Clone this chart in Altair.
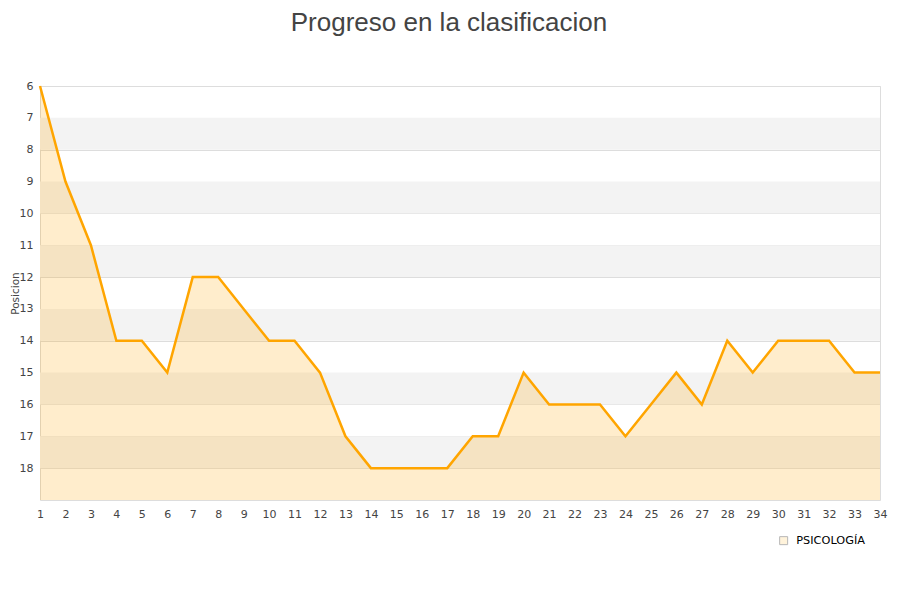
import altair as alt
import pandas as pd

jornadas = list(range(1, 35))
posiciones = [6, 9, 11, 14, 14, 15, 12, 12, 13, 14, 14, 15, 17, 18, 18, 18, 18,
              17, 17, 15, 16, 16, 16, 17, 16, 15, 16, 14, 15, 14, 14, 14, 15, 15]
serie = "PSICOLOGÍA"
y_ticks = list(range(6, 19))
banda_inicio = [7, 9, 11, 13, 15, 17]

df = pd.DataFrame({"jornada": jornadas, "posicion": posiciones, "serie": serie, "fondo": 19})
bandas = pd.DataFrame({"y": banda_inicio, "y2": [b + 1 for b in banda_inicio]})

xs = alt.Scale(domain=[1, 34], nice=False, zero=False)
ys = alt.Scale(domain=[6, 19], reverse=True, nice=False, zero=False)

font = "DejaVu Sans"

x_axis = alt.Axis(values=jornadas, title=None, grid=False, ticks=False, domain=False,
                  labelFont=font, labelFontSize=11, labelColor="#444", labelPadding=8,
                  labelFlush=False, labelOverlap=False, labelBound=False)
y_axis = alt.Axis(values=y_ticks, title="Posicion", grid=True, gridColor="#dddddd",
                  ticks=False, domain=False, labelFont=font, labelFontSize=11,
                  labelColor="#444", labelPadding=7, labelOverlap=False, labelBound=False,
                  labelFlush=False,
                  titleFont=font, titleFontSize=10.5,
                  titleFontWeight="normal", titleColor="#444", titleX=-20)

band_layer = alt.Chart(bandas).mark_rect(color="#f3f3f3").encode(
    y=alt.Y("y:Q", scale=ys, axis=y_axis),
    y2="y2:Q",
    x=alt.value(0),
    x2=alt.value(840),
)

area = alt.Chart(df).mark_area(color="#FFA500", opacity=0.2).encode(
    x=alt.X("jornada:Q", scale=xs, axis=x_axis),
    y=alt.Y("posicion:Q", scale=ys, axis=y_axis),
    y2="fondo:Q",
)

line = alt.Chart(df).mark_line(color="#FFA500", strokeWidth=2.5).encode(
    x=alt.X("jornada:Q", scale=xs, axis=x_axis),
    y=alt.Y("posicion:Q", scale=ys, axis=y_axis),
)

legend_layer = alt.Chart(df).mark_square(stroke="#999999", strokeWidth=1).encode(
    x=alt.X("jornada:Q", scale=xs, axis=x_axis),
    y=alt.Y("posicion:Q", scale=ys, axis=y_axis),
    size=alt.value(0),
    fill=alt.Fill("serie:N", scale=alt.Scale(domain=[serie], range=["#FFEECC"]),
                  legend=alt.Legend(title=None, orient="none", legendX=738, legendY=449,
                                    symbolType="square", symbolSize=64,
                                    symbolStrokeColor="#999999", symbolStrokeWidth=1,
                                    labelFont=font, labelFontSize=11.3, labelColor="#000",
                                    padding=0, labelOffset=7)),
)

chart = alt.layer(band_layer, area, line, legend_layer).properties(
    width=840,
    height=414,
    title=alt.TitleParams("Progreso en la clasificacion", font="Liberation Sans",
                          fontSize=26, fontWeight="normal", color="#444",
                          anchor="middle", dx=-11, offset=44),
    autosize=alt.AutoSizeParams(type="none"),
    padding={"left": 32, "top": 78, "right": 12, "bottom": 92},
).configure_view(stroke="#dddddd").configure_axis(labelOverlap=False).configure(background="white")

chart.save("out.html", embed_options={"renderer": "svg", "actions": False})
